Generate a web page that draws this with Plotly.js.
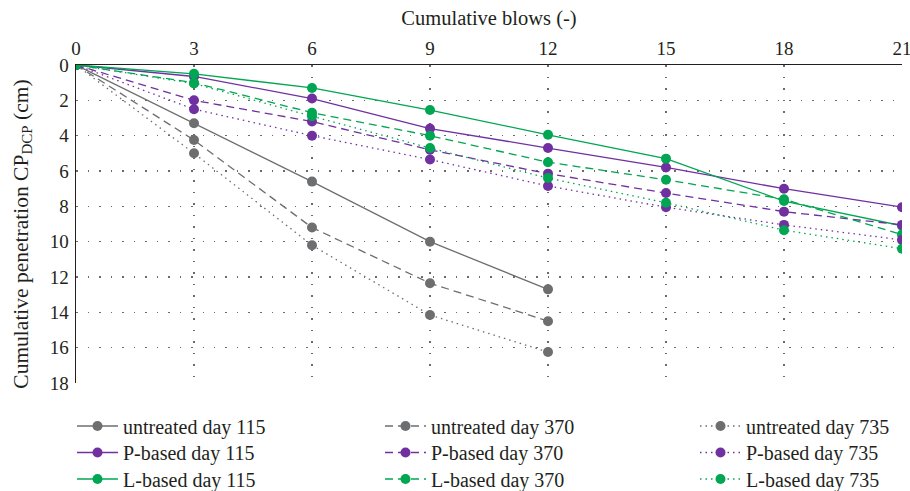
<!DOCTYPE html>
<html>
<head>
<meta charset="utf-8">
<script src="https://cdn.plot.ly/plotly-3.0.1.min.js"></script>
<style>html,body{margin:0;padding:0;background:#fff;}#chart{width:910px;height:491px;}</style>
</head>
<body>
<div id="chart"></div>
<script>
// Data
const blows = [0, 3, 6, 9, 12, 15, 18, 21];
const untreated115 = [0, 3.3, 6.6, 10.0, 12.7];
const untreated370 = [0, 4.25, 9.2, 12.35, 14.5];
const untreated735 = [0, 5.0, 10.2, 14.15, 16.25];
const pBased115 = [0, 0.65, 1.9, 3.6, 4.7, 5.8, 7.0, 8.05];
const pBased370 = [0, 2.0, 3.2, 4.8, 6.15, 7.25, 8.3, 9.05];
const pBased735 = [0, 2.5, 4.0, 5.35, 6.85, 8.05, 9.05, 9.9];
const lBased115 = [0, 0.5, 1.3, 2.55, 3.95, 5.3, 7.7, 9.1];
const lBased370 = [0, 1.0, 2.7, 4.0, 5.5, 6.5, 7.6, 9.6];
const lBased735 = [0, 1.05, 2.9, 4.7, 6.4, 7.8, 9.35, 10.4];
const xTicks = [0, 3, 6, 9, 12, 15, 18, 21];
const yTicks = [0, 2, 4, 6, 8, 10, 12, 14, 16, 18];

const GRAY = '#6d6e70', PURPLE = '#7030a0', GREEN = '#00a651';
const SOLID = 'solid', DASH = '8px,5px', DOT = '1.5px,4px';
const FONT = 'Liberation Serif, DejaVu Serif, serif';

const series = [
  ['untreated day 115', untreated115, GRAY, SOLID],
  ['P-based day 115', pBased115, PURPLE, SOLID],
  ['L-based day 115', lBased115, GREEN, SOLID],
  ['untreated day 370', untreated370, GRAY, DASH],
  ['P-based day 370', pBased370, PURPLE, DASH],
  ['L-based day 370', lBased370, GREEN, DASH],
  ['untreated day 735', untreated735, GRAY, DOT],
  ['P-based day 735', pBased735, PURPLE, DOT],
  ['L-based day 735', lBased735, GREEN, DOT]
];

// plot area in pixels
const PL = 76, PR = 902, PT = 65, PB = 383;
const px2x = function (p) { return (p - PL) / (PR - PL); };
const px2y = function (p) { return (PB - p) / (PB - PT); };
// legend placement (pixels): columns' left edges and rows' centres
const colLeft = [72, 380, 695];
const rowMid = [426, 452.5, 479];

const data = [];
const layout = {
  width: 910, height: 491,
  margin: {l: PL, r: 910 - PR, t: PT, b: 491 - PB, autoexpand: false},
  paper_bgcolor: '#fff', plot_bgcolor: '#fff',
  font: {family: FONT, size: 18, color: '#231f20'},
  showlegend: true,
  xaxis: {
    side: 'top', range: [0, 21.0001], tickvals: xTicks, ticktext: xTicks.map(String),
    showline: true, linecolor: '#231f20', linewidth: 1.5,
    showgrid: true, gridcolor: '#6a6a6a', griddash: '1.5px,10px', gridwidth: 1.2,
    zeroline: false, ticks: '', ticklabelstandoff: 1, ticklabeloverflow: 'allow',
    tickfont: {family: FONT, size: 19}, automargin: false,
    title: {text: 'Cumulative blows (-)', font: {family: FONT, size: 20.5}, standoff: 6}
  },
  yaxis: {
    range: [18, 0], tickvals: yTicks, ticktext: yTicks.map(String),
    showline: true, linecolor: '#231f20', linewidth: 1.5,
    showgrid: true, gridcolor: '#6a6a6a', griddash: '1.5px,10px', gridwidth: 1.2,
    zeroline: false, ticks: '', ticklabelstandoff: 2, automargin: false,
    tickfont: {family: FONT, size: 19},
    title: {text: ''}
  },
  annotations: [{
    text: 'Cumulative penetration CP<sub>DCP</sub> (cm)', textangle: -90,
    xref: 'paper', yref: 'paper', x: px2x(21.7), y: px2y(234),
    xanchor: 'center', yanchor: 'middle', showarrow: false,
    font: {family: FONT, size: 21.5, color: '#231f20'}
  }]
};

series.forEach(function (s, i) {
  const key = i === 0 ? 'legend' : 'legend' + (i + 1);
  const col = Math.floor(i / 3), row = i % 3;
  data.push({
    x: blows.slice(0, s[1].length), y: s[1], name: s[0], type: 'scatter', mode: 'lines+markers',
    line: {color: s[2], width: 1.3, dash: s[3]},
    marker: {color: s[2], size: 10},
    legend: key
  });
  layout[key] = {
    xref: 'paper', yref: 'paper',
    x: px2x(colLeft[col]), y: px2y(rowMid[row]),
    xanchor: 'left', yanchor: 'middle', orientation: 'v',
    font: {family: FONT, size: 20, color: '#231f20'},
    itemwidth: 41, bgcolor: 'rgba(0,0,0,0)', borderwidth: 0
  };
});

Plotly.newPlot('chart', data, layout, {displayModeBar: false, staticPlot: true});
</script>
</body>
</html>
